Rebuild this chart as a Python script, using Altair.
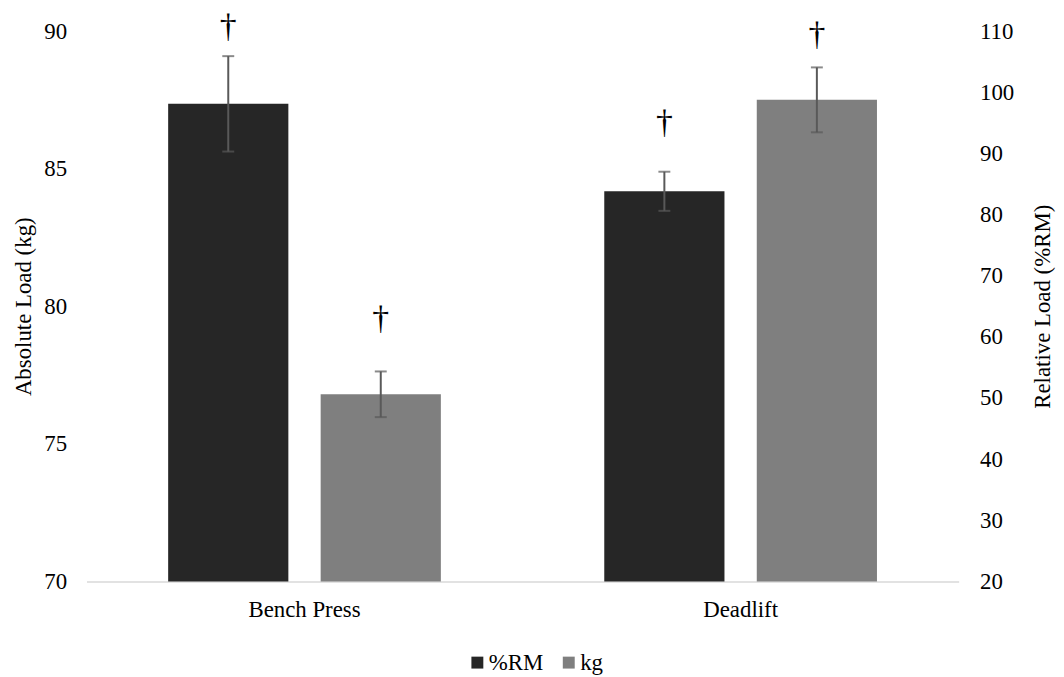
import altair as alt
import pandas as pd

exercises = ["Bench Press", "Deadlift"]
series = ["%RM", "kg"]

rm_mean = [98.1, 83.8]
rm_err = [7.8, 3.2]
rm_dagger = [110.6, 94.9]

kg_mean = [76.8, 87.5]
kg_err = [0.83, 1.18]
kg_dagger = [79.55, 89.85]

kg_ticks = [70, 75, 80, 85, 90]
rm_ticks = [20, 30, 40, 50, 60, 70, 80, 90, 100, 110]

rows = []
for i, ex in enumerate(exercises):
    rows.append(dict(exercise=ex, series="%RM", value=rm_mean[i],
                     lo=rm_mean[i] - rm_err[i], hi=rm_mean[i] + rm_err[i],
                     dag=rm_dagger[i]))
    rows.append(dict(exercise=ex, series="kg", value=kg_mean[i],
                     lo=kg_mean[i] - kg_err[i], hi=kg_mean[i] + kg_err[i],
                     dag=kg_dagger[i]))
df = pd.DataFrame(rows)

FONT = "Liberation Serif"
FS = 23
ERR_COLOR = "#595959"

x_enc = alt.X(
    "exercise:N", sort=exercises,
    scale=alt.Scale(domain=exercises, paddingInner=0.3747, paddingOuter=0.1873),
    axis=alt.Axis(title=None, labelAngle=0, labelPadding=17, ticks=False,
                  tickSize=0, domainColor="#d9d9d9", domainWidth=1.5,
                  grid=False),
)
xo_enc = alt.XOffset(
    "series:N", sort=series,
    scale=alt.Scale(domain=series, paddingInner=0.2118, paddingOuter=0),
)
color_enc = alt.Color(
    "series:N",
    scale=alt.Scale(domain=series, range=["#262626", "#7f7f7f"]),
    legend=alt.Legend(
        title=None, orient="none", direction="horizontal",
        legendX=382, legendY=624,
        symbolType="square", symbolSize=144, symbolStrokeWidth=0,
        symbolOpacity=1, labelOffset=0, columnPadding=14,
    ),
)


def group(ser, domain, ticks, title, orient, title_pad, title_baseline):
    base = alt.Chart(df).transform_filter(alt.datum.series == ser)
    yscale = alt.Scale(domain=domain, zero=False, nice=False)
    axis = alt.Axis(
        orient=orient, values=ticks, title=title,
        titleAngle=270, titlePadding=title_pad, titleBaseline=title_baseline,
        labelPadding=20 if orient == "left" else 21,
        ticks=False, tickSize=0, domain=False, grid=False,
    )
    bars = base.mark_bar().encode(
        x=x_enc, xOffset=xo_enc, color=color_enc,
        y=alt.Y("value:Q", scale=yscale, axis=axis, title=title),
        y2=alt.datum(domain[0]),
    )
    err = base.mark_rule(color=ERR_COLOR, strokeWidth=2).encode(
        x=x_enc, xOffset=xo_enc,
        y=alt.Y("lo:Q", scale=yscale, axis=axis, title=title), y2="hi:Q",
    )
    cap_hi = base.mark_tick(color=ERR_COLOR, thickness=2, size=12).encode(
        x=x_enc, xOffset=xo_enc,
        y=alt.Y("hi:Q", scale=yscale, axis=axis, title=title),
    )
    cap_lo = base.mark_tick(color=ERR_COLOR, thickness=2, size=12).encode(
        x=x_enc, xOffset=xo_enc,
        y=alt.Y("lo:Q", scale=yscale, axis=axis, title=title),
    )
    dag = base.mark_text(text="\u2020", fontSize=34, baseline="middle",
                         color="black").encode(
        x=x_enc, xOffset=xo_enc,
        y=alt.Y("dag:Q", scale=yscale, axis=axis, title=title),
    )
    return alt.layer(bars, err, cap_hi, cap_lo, dag)


left = group("kg", [70, 90], kg_ticks, "Absolute Load (kg)", "left", 8, "bottom")
right = group("%RM", [20, 110], rm_ticks, "Relative Load (%RM)", "right", 18, "top")

chart = (
    alt.layer(left, right)
    .resolve_scale(y="independent")
    .properties(
        width=878, height=554,
        padding={"left": 79, "top": 21, "right": 98, "bottom": 92},
        autosize=alt.AutoSizeParams(type="none"),
        background="white",
    )
    .configure_view(stroke=None)
    .configure_axis(labelFont=FONT, labelFontSize=FS, labelColor="black",
                    titleFont=FONT, titleFontSize=FS, titleFontWeight="normal",
                    titleColor="black")
    .configure_legend(labelFont=FONT, labelFontSize=FS, labelColor="black")
    .configure_text(font=FONT)
)

chart.save("out.html", embed_options={"renderer": "svg", "actions": False})
